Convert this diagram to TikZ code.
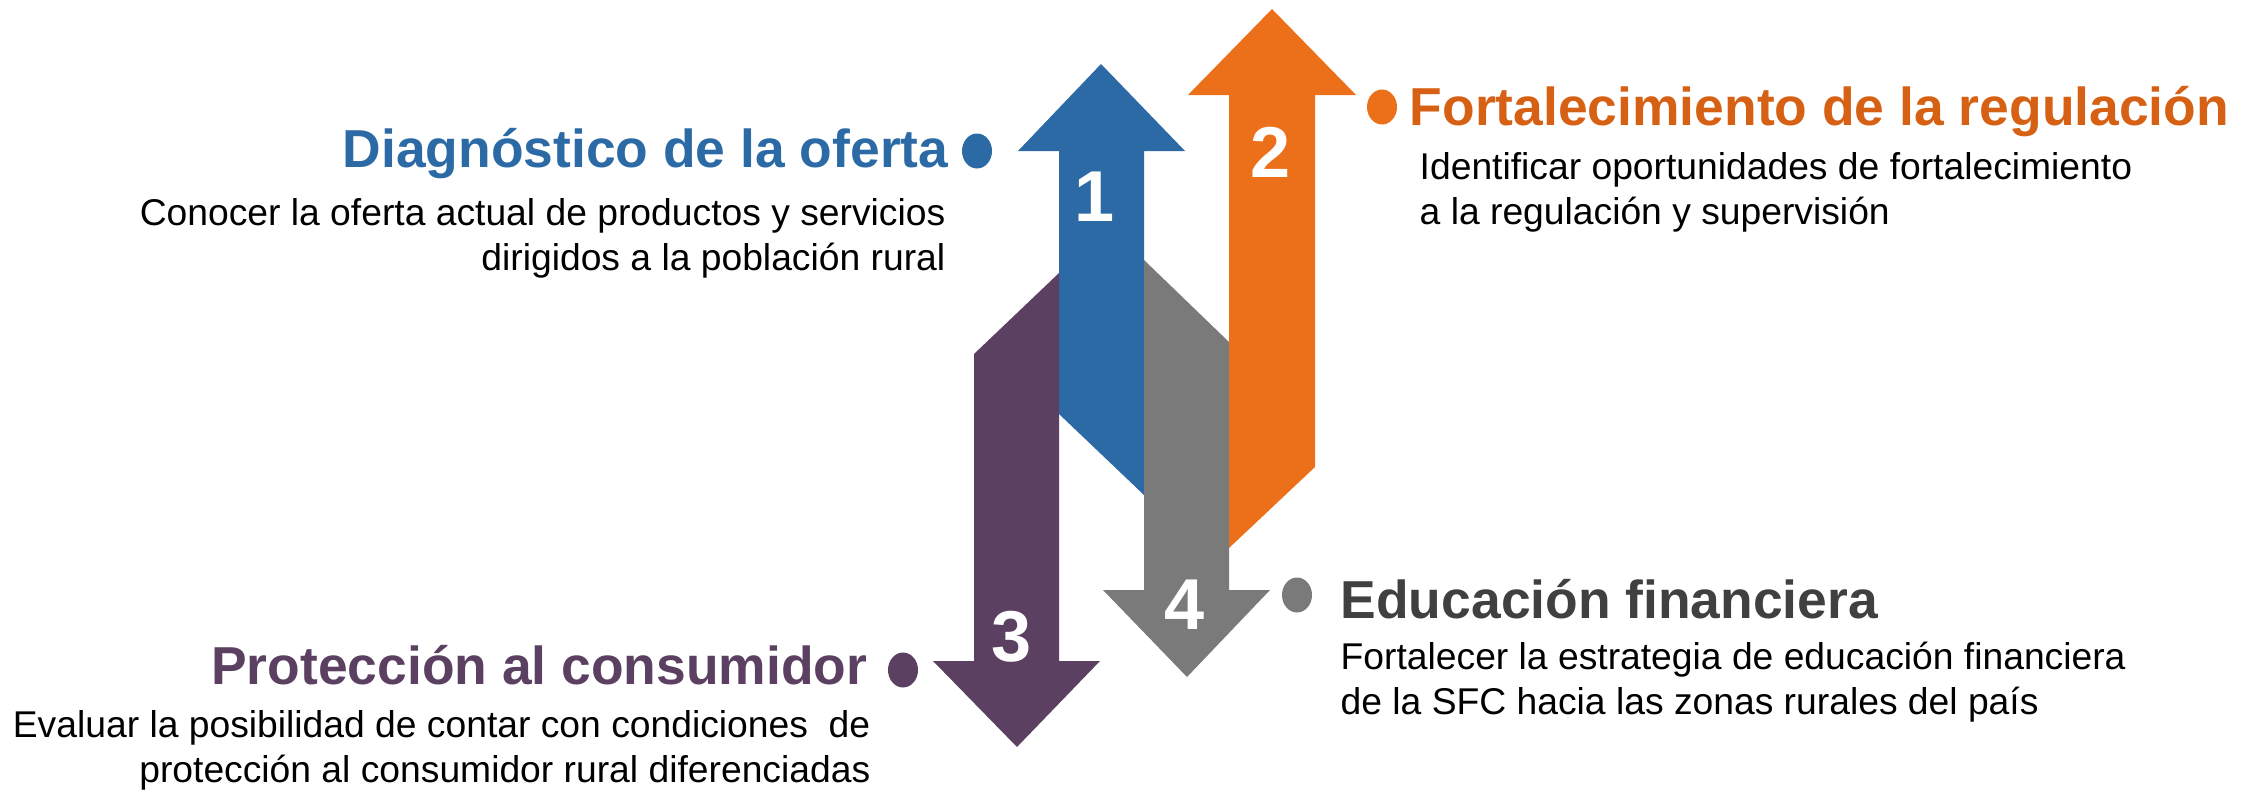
\documentclass[tikz,border=0pt]{standalone}
\usepackage{fontspec}
\setmainfont{Liberation Sans}
\usetikzlibrary{shapes.geometric}
\definecolor{azul}{RGB}{44,106,165}
\definecolor{naranja}{RGB}{236,112,25}
\definecolor{naranjaosc}{RGB}{214,96,20}
\definecolor{gris}{RGB}{122,122,122}
\definecolor{grisosc}{RGB}{64,64,64}
\definecolor{morado}{RGB}{92,64,98}

\tikzset{
  titulo/.style={font=\fontsize{15.2}{18}\selectfont\bfseries, inner sep=0pt},
  texto/.style={font=\fontsize{10.6}{12.7}\selectfont, inner sep=0pt},
  numero/.style={font=\fontsize{20.5}{24}\selectfont\bfseries, text=white, inner sep=0pt},
  punto/.style={ellipse, minimum width=0.30cm, minimum height=0.35cm, inner sep=0pt}
}

\begin{document}
\begin{tikzpicture}
	\useasboundingbox (0,0) rectangle (22.54,7.93);
	% flechas
	\fill[azul] (11.01,7.29) -- (11.85,6.42) -- (11.44,6.42) -- (11.44,2.98)
		-- (10.59,3.79) -- (10.59,6.42) -- (10.18,6.42) -- cycle;
	\fill[naranja] (12.72,7.84) -- (13.56,6.98) -- (13.15,6.98) -- (13.15,3.26)
		-- (12.29,2.45) -- (12.29,6.98) -- (11.88,6.98) -- cycle;
	\fill[morado] (10.17,0.46) -- (11.00,1.32) -- (10.59,1.32) -- (10.59,5.20)
		-- (9.74,4.39) -- (9.74,1.32) -- (9.33,1.32) -- cycle;
	\fill[gris] (11.87,1.16) -- (12.70,2.03) -- (12.29,2.03) -- (12.29,4.51)
		-- (11.44,5.33) -- (11.44,2.03) -- (11.03,2.03) -- cycle;
	% numeros
	\node[numero] (n1) at (10.95,5.96) {1};
	\node[numero] (n2) at (12.71,6.41) {2};
	\node[numero] (n3) at (10.12,1.56) {3};
	\node[numero] (n4) at (11.85,1.88) {4};
	% puntos
	\node[punto, fill=azul] (p1) at (9.77,6.42) {};
	\node[punto, fill=naranja] (p2) at (13.82,6.86) {};
	\node[punto, fill=morado] (p3) at (9.03,1.23) {};
	\node[punto, fill=gris] (p4) at (12.97,1.98) {};
	% textos
	\node[titulo, text=azul, anchor=base east] (t1) at (9.49,6.25) {Diagnóstico de la oferta};
	\node[texto, align=right, anchor=base east] (d1) at (9.46,5.23)
		{Conocer la oferta actual de productos y servicios\\dirigidos a la población rural};
	\node[titulo, text=naranjaosc, anchor=base west] (t2) at (14.09,6.68) {Fortalecimiento de la regulación};
	\node[texto, align=left, anchor=base west] (d2) at (14.19,5.69)
		{Identificar oportunidades de fortalecimiento\\a la regulación y supervisión};
	\node[titulo, text=morado, anchor=base east] (t3) at (8.68,1.09) {Protección al consumidor};
	\node[texto, align=right, anchor=base east] (d3) at (8.71,0.11)
		{Evaluar la posibilidad de contar con condiciones\ \ de\\protección al consumidor rural diferenciadas};
	\node[titulo, text=grisosc, anchor=base west] (t4) at (13.40,1.75) {Educación financiera};
	\node[texto, align=left, anchor=base west] (d4) at (13.40,0.79)
		{Fortalecer la estrategia de educación financiera\\de la SFC hacia las zonas rurales del país};
\end{tikzpicture}
\end{document}
